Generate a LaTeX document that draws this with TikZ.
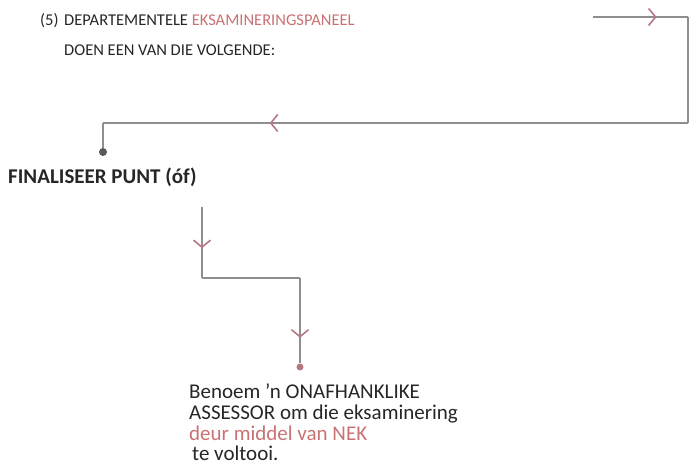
\documentclass[tikz,border=0pt]{standalone}
\usepackage{fontspec}
\setmainfont{Carlito}
\usepackage{tikz}
\usetikzlibrary{arrows.meta}
\usetikzlibrary{decorations.markings}
\definecolor{linegray}{HTML}{8E8E8E}
\definecolor{tipred}{HTML}{B87683}
\definecolor{textred}{HTML}{C97274}
\definecolor{textgray}{HTML}{262626}
\tikzset{
    flow/.style={draw=linegray, line width=2pt},
    midtip/.style={postaction={decorate}, decoration={markings,
        mark=at position #1 with {\arrow[tipred, line width=1.6pt]{Straight Barb[length=7pt, width=17pt]}}}},
    txt/.style={anchor=base west, inner sep=0pt, text=textgray, font=\fontsize{16.5}{21}\selectfont},
    bigtxt/.style={txt, font=\fontsize{21}{21}\selectfont}}

\begin{document}
\begin{tikzpicture}[x=1pt, y=-1pt]
            \useasboundingbox (0,0) rectangle (690,465);

            \node[txt] (num) at (40,26) {(5)};
            \node[txt] (panel) at (64,26) {DEPARTEMENTELE \textcolor{textred}{EKSAMINERINGSPANEEL}};
            \node[txt] (doen) at (64,56) {DOEN EEN VAN DIE VOLGENDE:};

            \coordinate (S) at (593,17);
            \coordinate (C1) at (688,17);
            \coordinate (C2) at (688,123);
            \coordinate (C3) at (103,123);
            \node[shape=circle, fill=black!65, inner sep=0pt, minimum size=8pt] (D1) at (103,152) {};
            \node[bigtxt, font=\fontsize{21}{21}\selectfont\bfseries] (fin) at (8,183) {FINALISEER PUNT (óf)};

            \coordinate (T) at (202,207);
            \coordinate (B1) at (202,278);
            \coordinate (B2) at (300,278);
            \node[shape=circle, fill=tipred, inner sep=0pt, minimum size=7pt] (D2) at (300,367) {};
            \node[bigtxt] (line1) at (189,398) {Benoem ’n ONAFHANKLIKE};
            \node[bigtxt] (line2) at (189,419) {ASSESSOR om die eksaminering};
            \node[bigtxt, text=textred] (line3) at (189,440) {deur middel van NEK};
            \node[bigtxt] (line4) at (192,460) {te voltooi.};

            \draw[flow, midtip=0.67] (S) -- (C1);
            \draw[flow] (C1) -- (C2);
            \draw[flow, midtip=0.715] (C2) -- (C3);
            \draw[flow] (C3) -- (D1);
            \draw[flow, midtip=0.58] (T) -- (B1);
            \draw[flow] (B1) -- (B2);
            \draw[flow, midtip=0.7] (B2) -- (D2);

        \end{tikzpicture}
\end{document}
